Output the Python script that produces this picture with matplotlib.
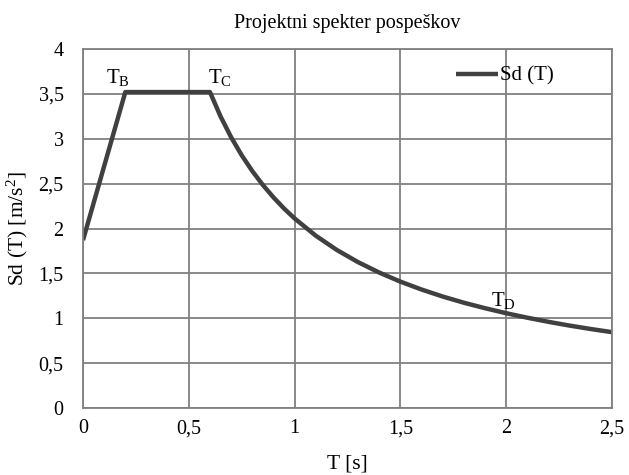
import matplotlib
matplotlib.use("Agg")
import matplotlib.pyplot as plt
from matplotlib.ticker import FuncFormatter

plt.rcParams['font.family'] = ['Liberation Serif', 'DejaVu Serif']
plt.rcParams['mathtext.fontset'] = 'custom'
plt.rcParams['mathtext.rm'] = 'Liberation Serif'
plt.rcParams['mathtext.it'] = 'Liberation Serif:italic'

T = [0.0, 0.2, 0.6, 0.65, 0.7, 0.75, 0.8, 0.85, 0.9, 0.95, 1.0, 1.1, 1.2, 1.3, 1.4,
     1.5, 1.6, 1.7, 1.8, 1.9, 2.0, 2.1, 2.2, 2.3, 2.4, 2.5]
Sd = [1.87, 3.52, 3.52, 3.249, 3.017, 2.816, 2.64, 2.485, 2.347, 2.223, 2.112, 1.92,
      1.76, 1.625, 1.509, 1.408, 1.32, 1.242, 1.173, 1.112, 1.056, 1.006, 0.96,
      0.918, 0.88, 0.845]
x_ticks = [0, 0.5, 1, 1.5, 2, 2.5]
y_ticks = [0, 0.5, 1, 1.5, 2, 2.5, 3, 3.5, 4]
labels = [("T$_\\mathrm{B}$", 0.2), ("T$_\\mathrm{C}$", 0.6), ("T$_\\mathrm{D}$", 2.0)]

fig = plt.figure(figsize=(6.29, 4.75), dpi=100)
ax = fig.add_axes([83/629, 1-408/475, 529/629, 359/475])

ax.plot(T, Sd, color='#404040', lw=3.2, label='Sd (T)', solid_capstyle='butt')
ax.set_xlim(0, 2.5)
ax.set_ylim(0, 4)
ax.set_xticks(x_ticks)
ax.set_yticks(y_ticks)
fmt = FuncFormatter(lambda v, p: ('%g' % v).replace('.', ','))
ax.xaxis.set_major_formatter(fmt)
ax.yaxis.set_major_formatter(fmt)
ax.tick_params(length=0, labelsize=14.5, colors='black')
ax.tick_params(axis='x', pad=8)
ax.tick_params(axis='y', pad=14)
ax.grid(True, color='#808080', lw=1.3)
ax.set_axisbelow(True)
for s in ax.spines.values():
    s.set_color('#808080')
    s.set_linewidth(1.3)

ax.set_title('Projektni spekter pospeškov', fontsize=14.5, pad=15)
ax.set_xlabel('T [s]', fontsize=15.5, labelpad=12)
ax.set_ylabel('Sd (T) [m/s$^2$]', fontsize=15.5, labelpad=6)

offs = {0.2: (-0.09, 3.57), 0.6: (-0.01, 3.57), 2.0: (-0.07, 1.08)}
for txt, t in labels:
    dx, y = offs[t]
    ax.text(t + dx, y, txt, fontsize=15, ha='left', va='bottom')

ax.legend(loc='upper left', bbox_to_anchor=(0.69, 0.975), frameon=False,
          fontsize=15, handlelength=2.0, handletextpad=0.1, borderaxespad=0)

fig.savefig('out.png', dpi=100)
